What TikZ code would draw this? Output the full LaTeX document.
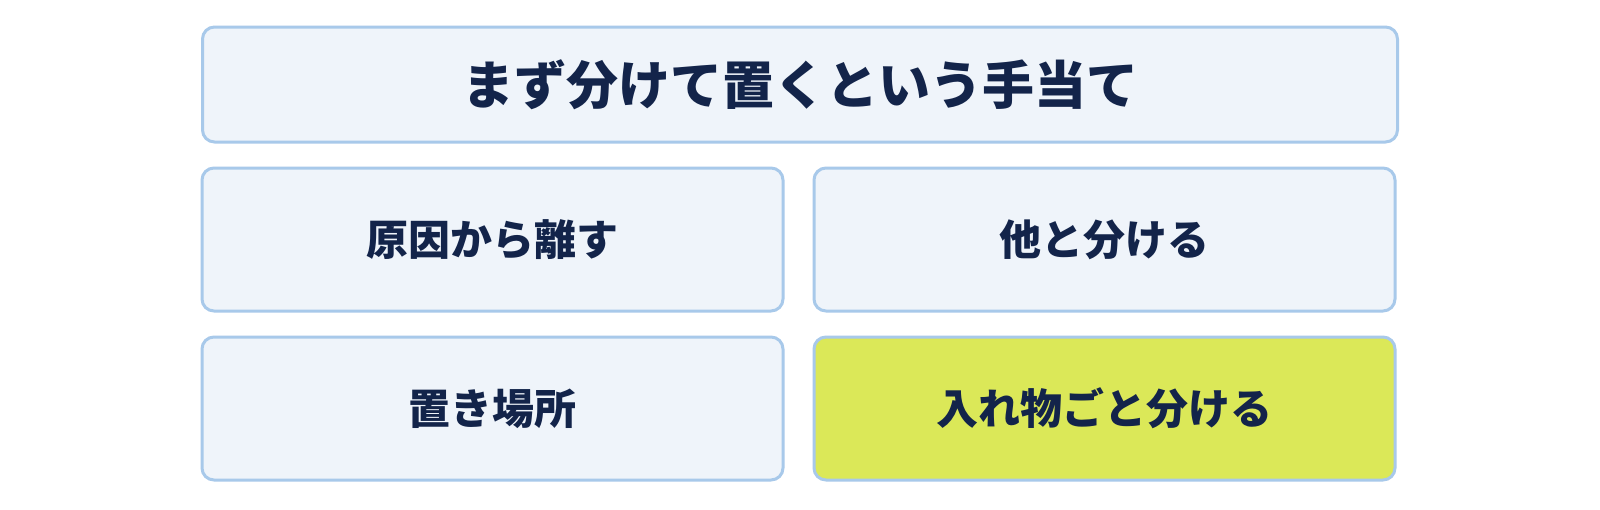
\documentclass[tikz,border=0pt]{standalone}
\usepackage{fontspec}
\setmainfont{Noto Sans CJK JP}
\definecolor{boxfill}{HTML}{EFF4FA}
\definecolor{boxline}{HTML}{A8C9EA}
\definecolor{hilite}{HTML}{DBE858}
\definecolor{ink}{HTML}{13244A}
\tikzset{
  card/.style={draw=boxline, line width=1.5pt, fill=boxfill, rounded corners=6pt,
    minimum width=290.5pt, minimum height=71.5pt, inner sep=0pt,
    text=ink, font=\fontsize{21pt}{24pt}\selectfont\bfseries},
  headcard/.style={card, minimum width=597.5pt, minimum height=57.5pt,
    font=\fontsize{26pt}{30pt}\selectfont\bfseries},
}
\begin{document}
\begin{tikzpicture}[x=0.5pt, y=-0.5pt]
        \useasboundingbox[fill=white] (0,0) rectangle (1600,509);

        \node[headcard] (head) at (800, 84.5) {まず分けて置くという手当て};

        \node[card] (cause) at (492.5, 239.5) {原因から離す};
        \node[card] (apart) at (1104.5, 239.5) {他と分ける};

        \node[card] (place) at (492.5, 408.5) {置き場所};
        \node[card, fill=hilite] (vessel) at (1104.5, 408.5) {入れ物ごと分ける};
    \end{tikzpicture}
\end{document}
